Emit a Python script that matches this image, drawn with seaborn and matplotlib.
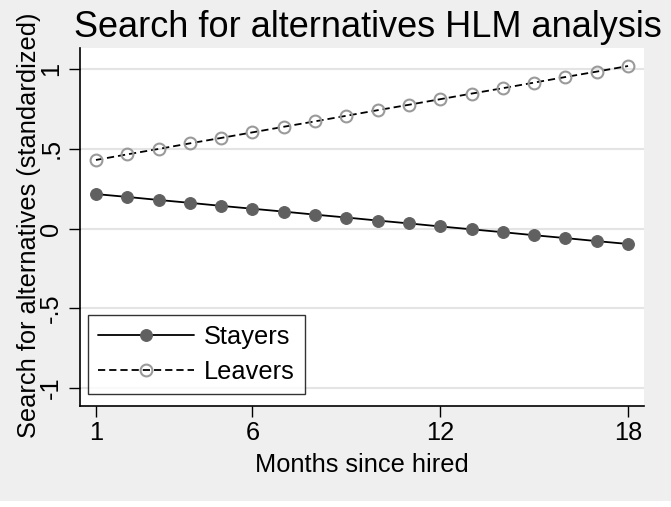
import matplotlib
matplotlib.use("Agg")
import matplotlib.pyplot as plt
from matplotlib.patches import Rectangle
import seaborn as sns
import pandas as pd

# Predicted trajectories by group
months = list(range(1, 19))
stayers = [0.216, 0.198, 0.179, 0.161, 0.142, 0.124, 0.106, 0.087, 0.069,
           0.050, 0.032, 0.013, -0.005, -0.023, -0.042, -0.060, -0.079, -0.097]
leavers = [0.430, 0.465, 0.499, 0.534, 0.568, 0.603, 0.638, 0.672, 0.707,
           0.742, 0.776, 0.811, 0.846, 0.880, 0.915, 0.950, 0.984, 1.019]
group_names = ["Stayers", "Leavers"]
x_ticks = [1, 6, 12, 18]
y_ticks = [-1, -0.5, 0, 0.5, 1]
y_tick_labels = ["-1", "-.5", "0", ".5", "1"]

df = pd.DataFrame({
    "month": months * 2,
    "value": stayers + leavers,
    "group": [group_names[0]] * len(months) + [group_names[1]] * len(months),
})

sns.set_theme(style="white")
plt.rcParams["font.family"] = ["Liberation Sans", "DejaVu Sans"]

W, H = 671, 507
fs = 18.3
bg = "#efefef"
fig = plt.figure(figsize=(W / 100, H / 100), dpi=100, facecolor=bg)
ax = fig.add_axes([80 / W, 101 / H, 564 / W, 358 / H])
ax.set_facecolor("white")

sns.lineplot(data=df[df.group == "Stayers"], x="month", y="value", ax=ax,
             color="black", lw=1.3, marker="o", markersize=8.5,
             markerfacecolor="#606060", markeredgecolor="#606060",
             label="Stayers", zorder=3)
sns.lineplot(data=df[df.group == "Leavers"], x="month", y="value", ax=ax,
             color="black", lw=1.3, dashes=(4, 2.2), marker="o", markersize=8.5,
             markerfacecolor="none", markeredgecolor="#9a9a9a",
             markeredgewidth=1.5, label="Leavers", zorder=3)

ax.set_xlim(0.49, 18.51)
ax.set_ylim(-1.113, 1.132)
ax.set_xticks(x_ticks)
ax.set_xticklabels([str(t) for t in x_ticks])
ax.set_yticks(y_ticks)
ax.set_yticklabels(y_tick_labels, rotation=90, va="center")

ax.grid(axis="y", color="#e4e4e4", lw=1.5)
ax.grid(axis="x", visible=False)
ax.set_axisbelow(True)
for side in ("top", "right"):
    ax.spines[side].set_visible(False)
for side in ("left", "bottom"):
    ax.spines[side].set_color("black")
    ax.spines[side].set_linewidth(1.2)

ax.tick_params(axis="both", direction="out", length=8, width=1, color="black",
               labelsize=fs, labelcolor="black", left=True, bottom=True)
ax.tick_params(axis="x", pad=3)
ax.tick_params(axis="y", pad=4)

ax.set_xlabel("Months since hired", fontsize=fs, color="black")
ax.xaxis.set_label_coords(0.5, -0.13)
ax.set_ylabel("Search for alternatives (standardized)", fontsize=fs,
              color="black")
ax.yaxis.set_label_coords(-0.069, 0.504)
fig.text(368 / W, 1 - 37 / H, "Search for alternatives HLM analysis",
         fontsize=26, ha="center", va="baseline", color="black")

leg = ax.legend(loc="lower left", bbox_to_anchor=(0.014, 0.034),
                borderaxespad=0, fontsize=fs, handlelength=3.8,
                handletextpad=0.4, labelspacing=0.45, borderpad=0.38,
                fancybox=False, frameon=True, facecolor="white")
leg.get_frame().set_edgecolor("black")
leg.get_frame().set_linewidth(1.0)
for t in leg.get_texts():
    t.set_color("black")

fig.patches.append(Rectangle((0, 0), 1, 6 / H, transform=fig.transFigure,
                             facecolor="white", edgecolor="none", zorder=0))

fig.savefig("out.png", dpi=100, facecolor=bg)
